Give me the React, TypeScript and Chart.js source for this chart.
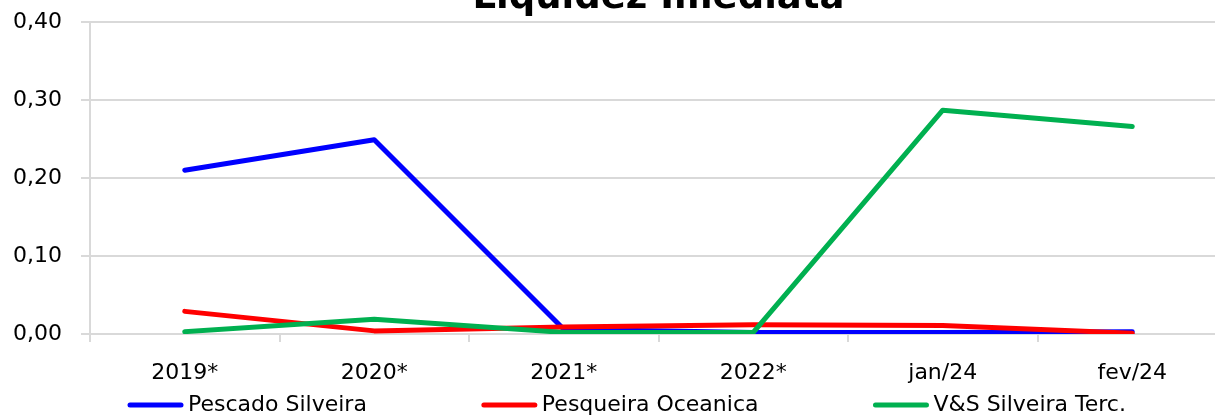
import React, { useEffect, useRef } from "react";
import { Chart, registerables } from "chart.js";

Chart.register(...registerables);

// ---- data ----
const chartTitle = "Liquidez Imediata";
const categories = ["2019*", "2020*", "2021*", "2022*", "jan/24", "fev/24"];
const seriesNames = ["Pescado Silveira", "Pesqueira Oceanica", "V&S Silveira Terc."];
const pescadoSilveira = [0.21, 0.249, 0.006, 0.002, 0.002, 0.003];
const pesqueiraOceanica = [0.029, 0.004, 0.009, 0.012, 0.011, 0.001];
const vsSilveiraTerc = [0.003, 0.019, 0.002, 0.002, 0.287, 0.266];
const yMin = 0;
const yMax = 0.4;
const yStep = 0.1;

// ---- styles ----
const seriesColors = ["#0000FF", "#FF0000", "#00B050"];
const FONT = "'DejaVu Sans', sans-serif";
const GRID = "#D9D9D9";

const spreadLegend = {
  id: "spreadLegend",
  afterDraw(chart: any) {
    const { ctx, chartArea } = chart;
    ctx.save();
    ctx.font = `22px ${FONT}`;
    ctx.textBaseline = "middle";
    ctx.textAlign = "left";
    const y = chartArea.bottom + 71;
    let x = 130;
    chart.data.datasets.forEach((ds: any) => {
      ctx.strokeStyle = ds.borderColor;
      ctx.lineWidth = 5;
      ctx.lineCap = "round";
      ctx.beginPath();
      ctx.moveTo(x, y);
      ctx.lineTo(x + 51, y);
      ctx.stroke();
      x += 58;
      ctx.fillStyle = "#000";
      ctx.fillText(ds.label, x, y);
      x += ctx.measureText(ds.label).width + 117;
    });
    ctx.restore();
  },
};

export default function App() {
  const ref = useRef<HTMLCanvasElement | null>(null);

  useEffect(() => {
    if (!ref.current) return;
    const values = [pescadoSilveira, pesqueiraOceanica, vsSilveiraTerc];
    const orders = [2, 1, 0];
    const chart = new Chart(ref.current, {
      type: "line",
      data: {
        labels: categories,
        datasets: values.map((v, i) => ({
          label: seriesNames[i],
          data: v,
          borderColor: seriesColors[i],
          backgroundColor: seriesColors[i],
          borderWidth: 5,
          borderCapStyle: "round",
          borderJoinStyle: "round",
          pointRadius: 0,
          tension: 0,
          fill: false,
          order: orders[i],
        })),
      },
      options: {
        animation: false,
        responsive: true,
        maintainAspectRatio: false,
        layout: { padding: { left: 0, right: 13, top: 0, bottom: 60 } },
        plugins: {
          legend: { display: false },
          tooltip: { enabled: false },
          title: {
            display: true,
            text: chartTitle,
            fullSize: false,
            color: "#000",
            font: { family: FONT, size: 37, weight: "bold", lineHeight: 1.2 },
            padding: { top: 0, bottom: 1.6 },
          },
        },
        scales: {
          x: {
            type: "category",
            offset: true,
            grid: {
              offset: true,
              drawOnChartArea: false,
              drawTicks: true,
              tickLength: 8,
              color: GRID,
              lineWidth: 2,
            },
            border: { display: true, color: GRID, width: 2 },
            ticks: {
              color: "#000",
              font: { family: FONT, size: 22 },
              padding: 18,
              maxRotation: 0,
              autoSkip: false,
            },
            afterFit: (s: any) => {
              s.height = 52;
            },
          },
          y: {
            min: yMin,
            max: yMax,
            ticks: {
              stepSize: yStep,
              color: "#000",
              font: { family: FONT, size: 22 },
              padding: 19,
              callback: (v: any) => Number(v).toFixed(2).replace(".", ","),
            },
            grid: { color: GRID, tickLength: 9, lineWidth: 2 },
            border: { display: true, color: GRID, width: 2 },
            afterFit: (s: any) => {
              s.width = 90;
            },
          },
        },
      },
      plugins: [spreadLegend],
    } as any);
    return () => chart.destroy();
  }, []);

  return (
    <div
      style={{
        position: "fixed",
        top: 0,
        left: 0,
        width: 1215,
        height: 418,
        overflow: "hidden",
        background: "#fff",
      }}
    >
      <div style={{ position: "absolute", top: -24, left: 0, width: 1240, height: 470 }}>
        <canvas ref={ref} />
      </div>
    </div>
  );
}
